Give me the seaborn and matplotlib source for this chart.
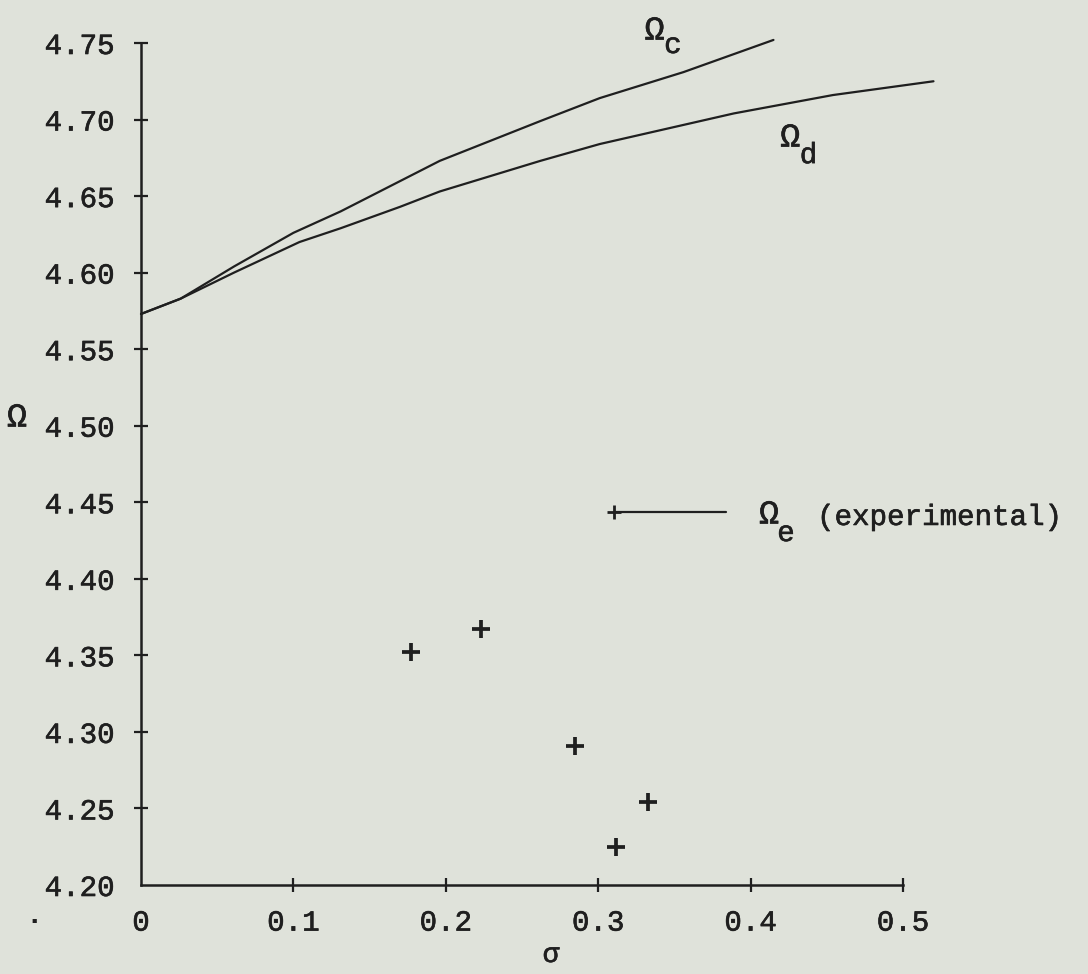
import matplotlib
matplotlib.use("Agg")
import matplotlib.pyplot as plt
import matplotlib.patheffects as pe
from matplotlib.legend_handler import HandlerBase
from matplotlib.lines import Line2D
import seaborn as sns
import pandas as pd

# ---- data ----
sigma_c = [0.0, 0.026, 0.061, 0.100, 0.131, 0.196, 0.262, 0.301, 0.356, 0.415]
omega_c = [4.573, 4.583, 4.604, 4.626, 4.640, 4.673, 4.699, 4.714, 4.731, 4.752]

sigma_d = [0.0, 0.026, 0.061, 0.104, 0.131, 0.170, 0.196, 0.262, 0.301, 0.389, 0.454, 0.520]
omega_d = [4.573, 4.583, 4.600, 4.620, 4.629, 4.643, 4.653, 4.673, 4.684, 4.704, 4.716, 4.725]

sigma_e = [0.177, 0.223, 0.285, 0.333, 0.312]
omega_e = [4.352, 4.367, 4.291, 4.254, 4.225]

x_ticks = [0.0, 0.1, 0.2, 0.3, 0.4, 0.5]
x_labels = ["0", "0.1", "0.2", "0.3", "0.4", "0.5"]
y_ticks = [4.20, 4.25, 4.30, 4.35, 4.40, 4.45, 4.50, 4.55, 4.60, 4.65, 4.70, 4.75]
y_labels = ["4.20", "4.25", "4.30", "4.35", "4.40", "4.45", "4.50", "4.55",
            "4.60", "4.65", "4.70", "4.75"]

INK = "#1f1f1f"
PAPER = "#dfe2da"
FONT = ["Liberation Mono", "DejaVu Sans Mono", "DejaVu Sans"]
OMEGA_SIZE = 24
LETTER_SIZE = 21
INKED = [pe.withStroke(linewidth=0.45, foreground=INK)]

sns.set_style("ticks")
plt.rcParams["font.family"] = FONT
plt.rcParams["text.color"] = INK
plt.rcParams["axes.edgecolor"] = INK
plt.rcParams["xtick.color"] = INK
plt.rcParams["ytick.color"] = INK

W, H = 1088, 974
fig = plt.figure(figsize=(W / 100, H / 100), dpi=100, facecolor=PAPER)
x0, x1 = 141, 903
y0, y1 = 885, 43
ax = fig.add_axes([x0 / W, 1 - y0 / H, (x1 - x0) / W, (y0 - y1) / H])
ax.set_facecolor(PAPER)

df_c = pd.DataFrame({"sigma": sigma_c, "omega": omega_c})
df_d = pd.DataFrame({"sigma": sigma_d, "omega": omega_d})
df_e = pd.DataFrame({"sigma": sigma_e, "omega": omega_e})

sns.lineplot(data=df_c, x="sigma", y="omega", sort=False, estimator=None,
             color=INK, lw=1.6, clip_on=False, ax=ax)
sns.lineplot(data=df_d, x="sigma", y="omega", sort=False, estimator=None,
             color=INK, lw=1.6, clip_on=False, ax=ax)
sns.scatterplot(data=df_e, x="sigma", y="omega", marker="+", s=150,
                linewidth=2.7, color=INK, clip_on=False, ax=ax, zorder=5)

ax.set_xlim(0, 0.5)
ax.set_ylim(4.20, 4.75)
ax.set_xticks(x_ticks)
ax.set_xticklabels(x_labels)
ax.set_yticks(y_ticks)
ax.set_yticklabels(y_labels)
ax.set_xlabel("")
ax.set_ylabel("")

for side in ["top", "right"]:
    ax.spines[side].set_visible(False)
for side in ["left", "bottom"]:
    ax.spines[side].set_linewidth(1.8)
ax.spines["left"].set_bounds(4.20, 4.75)
ax.spines["bottom"].set_bounds(0, 0.5)

ax.tick_params(axis="y", direction="inout", length=10, width=1.6, pad=14, labelsize=21)
ax.tick_params(axis="x", direction="inout", length=10, width=1.6, pad=12, labelsize=21)
# no tick marks at the corner
ax.xaxis.get_major_ticks()[0].tick1line.set_visible(False)
ax.yaxis.get_major_ticks()[0].tick1line.set_visible(False)
for lab in ax.get_xticklabels() + ax.get_yticklabels():
    lab.set_path_effects(INKED)

# ---- curve labels ----
ax.text(0.337, 4.7578, "Ω", fontsize=OMEGA_SIZE, ha="center", va="center", color=INK,
        path_effects=INKED)
ax.text(0.349, 4.7487, "c", fontsize=LETTER_SIZE, ha="center", va="center", color=INK,
        path_effects=INKED)
ax.text(0.426, 4.6879, "Ω", fontsize=OMEGA_SIZE, ha="center", va="center", color=INK,
        path_effects=INKED)
ax.text(0.438, 4.6768, "d", fontsize=LETTER_SIZE, ha="center", va="center", color=INK,
        path_effects=INKED)


# ---- key for the experimental points ----
class PlusLineHandler(HandlerBase):
    def create_artists(self, legend, orig_handle, xdescent, ydescent,
                       width, height, fontsize, trans):
        y = height / 2 - ydescent
        line = Line2D([-xdescent, width - xdescent], [y, y], color=INK, lw=1.6)
        mark = Line2D([-xdescent], [y], marker="+", markersize=10,
                      markeredgewidth=2.0, color=INK, linestyle="none")
        line.set_transform(trans)
        mark.set_transform(trans)
        return [line, mark]


key = Line2D([], [], color=INK)
leg = ax.legend([key], ["Ω"], handler_map={Line2D: PlusLineHandler()},
                loc="center left", bbox_to_anchor=(0.3104, 4.4417),
                bbox_transform=ax.transData, frameon=False, borderpad=0,
                borderaxespad=0, handlelength=3.35, handletextpad=1.0,
                prop={"family": FONT, "size": OMEGA_SIZE})
for t in leg.get_texts():
    t.set_color(INK)
    t.set_path_effects(INKED)
ax.text(0.4232, 4.4299, "e", fontsize=LETTER_SIZE, ha="center", va="center", color=INK,
        path_effects=INKED)
ax.text(0.4436, 4.4404, "(experimental)", fontsize=LETTER_SIZE, ha="left", va="center",
        color=INK, path_effects=INKED)

# ---- axis titles ----
fig.text(17 / W, 1 - 418 / H, "Ω", fontsize=OMEGA_SIZE, ha="center", va="center",
         color=INK, path_effects=INKED)
fig.text(551 / W, 1 - 955 / H, "σ", fontsize=20, ha="center", va="center", color=INK,
         path_effects=INKED)
fig.text(34 / W, 1 - 915 / H, ".", fontsize=21, fontweight="bold", ha="center",
         va="center", color=INK)

fig.savefig("out.png", dpi=100, facecolor=PAPER)
